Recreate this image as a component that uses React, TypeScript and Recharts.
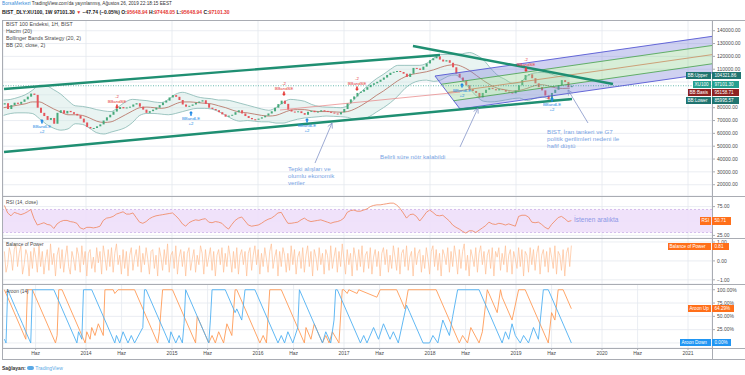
import React from "react";
import {
  Area,
  Bar,
  CartesianGrid,
  ComposedChart,
  Line,
  ReferenceArea,
  ReferenceLine,
  Scatter,
  XAxis,
  YAxis,
} from "recharts";

// zaman ekseni yıl cinsinden; 0. hafta = 2013-01-18
const START_YEAR = 2013.051;
const WEEK = 7 / 365.25;
const weekToYear = (w: number) => START_YEAR + w * WEEK;

const X_DOMAIN: [number, number] = [2013.035, 2021.279];
const xTicks = [
  2013.414, 2014, 2014.414, 2015, 2015.414, 2016, 2016.414, 2017, 2017.414, 2018,
  2018.414, 2019, 2019.414, 2020, 2020.414, 2021,
];

// fiyatlar bin puan cinsinden
const MAIN_Y: [number, number] = [11.2, 148.34];
const priceTicks = [20, 30, 40, 50, 60, 70, 80, 90, 100, 110, 120, 130, 140];
const lastPrice = 97.1013;

// iki haftalık kapanışlar
const firstOpen = 82.5;
const closes = [
  83.5, 79.0, 82.0, 83.9, 83.0, 84.6, 86.5, 88.6, 91.0, 90.0,
  80.0, 76.0, 73.5, 70.5, 72.0, 67.5, 76.0, 78.0, 75.5, 77.5,
  76.5, 75.2, 74.0, 71.5, 68.5, 65.0, 63.8, 64.2, 65.5, 67.0,
  70.0, 72.5, 74.5, 77.0, 79.0, 80.5, 79.5, 80.2, 80.8, 82.5,
  83.5, 80.8, 78.5, 76.0, 77.3, 78.5, 80.0, 82.0, 84.0, 85.5,
  88.0, 89.8, 88.5, 86.0, 82.5, 80.8, 81.5, 82.5, 83.8, 84.8,
  85.8, 83.0, 80.0, 79.0, 78.0, 76.5, 74.8, 73.0, 73.8, 74.5,
  76.5, 78.0, 75.5, 73.5, 72.0, 71.0, 70.6, 71.5, 72.5, 73.8,
  75.5, 77.2, 80.0, 82.8, 85.5, 83.0, 78.5, 77.0, 76.5, 77.2,
  75.8, 74.5, 76.8, 77.6, 76.5, 77.0, 78.0, 77.5, 76.8, 76.2,
  75.5, 74.8, 76.5, 79.0, 83.5, 86.5, 88.8, 91.5, 92.5, 94.0,
  96.0, 97.8, 99.0, 100.2, 101.8, 103.5, 105.5, 107.2, 108.0, 108.6,
  107.8, 106.5, 104.0, 106.5, 111.0, 110.5, 109.5, 112.0, 114.5, 117.0,
  118.5, 120.0, 117.5, 116.0, 117.0, 115.0, 111.5, 106.5, 103.5, 101.0,
  97.5, 94.5, 93.0, 91.5, 88.0, 91.5, 94.0, 95.5, 94.5, 93.5,
  94.5, 93.8, 92.5, 91.8, 91.2, 93.5, 97.5, 101.5, 105.5, 106.0,
  103.0, 99.0, 96.0, 93.5, 89.5, 86.5, 91.5, 94.0, 97.5, 101.5,
  100.0, 96.0, 97.1,
];

// Bollinger (20, 2) aylık okuma
const bbUpper = [
  86.0, 86.5, 88.0, 90.0, 93.5, 97.5, 97.0, 94.0, 90.5, 85.5,
  81.5, 81.0, 80.0, 78.5, 77.5, 77.0, 80.5, 84.5, 86.5, 86.0,
  85.5, 84.5, 84.0, 86.5, 90.5, 92.0, 90.5, 88.5, 87.5, 87.0,
  86.0, 86.0, 85.0, 83.5, 82.0, 80.5, 79.0, 78.0, 80.0, 84.0,
  86.5, 86.0, 85.0, 82.5, 81.0, 80.5, 80.3, 80.0, 81.5, 87.0,
  93.0, 98.0, 102.5, 106.0, 110.0, 113.0, 113.0, 113.0, 113.0, 114.5,
  118.5, 121.5, 121.5, 121.5, 122.0, 123.0, 121.0, 117.0, 110.5, 105.0,
  102.0, 99.0, 99.5, 104.5, 107.0, 107.5, 107.0, 105.0, 104.0, 104.32,
];
const bbBasis = [
  80.0, 81.0, 82.0, 83.0, 84.5, 84.5, 82.0, 79.0, 76.5, 74.5,
  74.5, 74.0, 72.0, 69.5, 68.5, 69.0, 71.5, 74.5, 77.5, 80.0,
  80.5, 80.0, 79.5, 80.5, 83.0, 84.5, 84.5, 84.0, 83.5, 83.0,
  81.5, 80.0, 78.0, 76.5, 76.0, 75.0, 74.0, 73.5, 74.0, 76.0,
  78.0, 78.5, 78.5, 77.5, 77.0, 77.0, 76.8, 76.5, 77.0, 79.0,
  82.0, 85.5, 89.5, 93.0, 97.0, 101.0, 104.0, 106.0, 107.0, 108.0,
  109.5, 111.5, 113.0, 113.5, 112.0, 109.0, 105.0, 101.0, 97.5, 95.0,
  94.0, 93.0, 93.5, 95.0, 97.0, 98.0, 97.0, 95.5, 95.0, 95.16,
];
const bbLower = [
  74.0, 75.5, 76.0, 76.0, 75.5, 71.5, 67.0, 64.0, 62.5, 63.5,
  67.5, 67.0, 64.0, 60.5, 59.5, 61.0, 62.5, 64.5, 68.5, 74.0,
  75.5, 75.5, 75.0, 74.5, 75.5, 77.0, 78.5, 79.5, 79.5, 79.0,
  77.0, 74.0, 71.0, 69.5, 70.0, 69.5, 69.0, 69.0, 68.0, 68.0,
  69.5, 71.0, 72.0, 72.5, 73.0, 73.5, 73.3, 73.0, 72.5, 71.0,
  71.0, 73.0, 76.5, 80.0, 84.0, 89.0, 95.0, 99.0, 101.0, 101.5,
  100.5, 101.5, 104.5, 105.5, 102.0, 95.0, 89.0, 85.0, 84.5, 85.0,
  86.0, 87.0, 87.5, 85.5, 87.0, 88.5, 87.0, 86.0, 86.0, 86.0,
];

// çizimler: [yıl, fiyat]
const upperTrend = [[2013.047, 94.57], [2018.116, 121.07]];
const lowerTrend = [[2013.047, 45.48], [2019.651, 86.78]];
const fallingTrend = [[2017.802, 128.08], [2020.128, 98.47]];
const thinRedLine = [[2016.256, 78.2], [2018.349, 92.2]];

// paralel kanal bantları: [yıl, alt, üst]
const chanTopBand = [[2018.058, 104.7, 104.7], [2018.131, 98.275, 105.4], [2021.279, 128.475, 135.6]];
const chanMidBand = [[2018.131, 98.275, 98.275], [2018.276, 85.425, 99.67], [2021.279, 114.225, 128.475]];
const chanLowBand = [[2018.276, 85.425, 85.425], [2018.349, 79.0, 86.126], [2021.279, 107.1, 114.225]];
const chanTop = [[2018.058, 104.7], [2021.279, 135.6]];
const chanQ1 = [[2018.131, 98.275], [2021.279, 128.475]];
const chanMid = [[2018.2035, 91.85], [2021.279, 121.35]];
const chanQ3 = [[2018.276, 85.425], [2021.279, 114.225]];
const chanBottom = [[2018.349, 79.0], [2021.279, 107.1]];
const chanEdge = [[2018.058, 104.7], [2018.349, 79.0]];

// not okları
const arrows = [
  [[2016.663, 36.9], [2016.8605, 68.08]],
  [[2016.8645, 63.72], [2016.8605, 68.08]],
  [[2016.811, 65.27], [2016.8605, 68.08]],
  [[2018.349, 49.4], [2018.558, 79.77]],
  [[2018.56, 75.41], [2018.558, 79.77]],
  [[2018.507, 77.05], [2018.558, 79.77]],
  [[2019.837, 68.1], [2019.605, 93.81]],
  [[2019.66, 91.47], [2019.605, 93.81]],
  [[2019.61, 89.45], [2019.605, 93.81]],
];

// strateji sinyalleri
const signals = [
  { t: 2013.488, p: 71.2, kind: "LE" },
  { t: 2014.36, p: 79.0, kind: "SE" },
  { t: 2015.221, p: 77.4, kind: "LE" },
  { t: 2016.302, p: 89.1, kind: "SE" },
  { t: 2016.57, p: 72.0, kind: "LE" },
  { t: 2017.151, p: 93.0, kind: "SE" },
  { t: 2018.372, p: 99.3, kind: "LE" },
  { t: 2019.116, p: 107.8, kind: "SE" },
  { t: 2019.419, p: 88.3, kind: "LE" },
];

// RSI (14) iki haftalık
const rsi = [
  77, 64, 59, 65, 63, 61, 63, 66, 70, 54, 43, 45, 47, 44, 43, 37, 45, 49, 51, 51,
  49, 48, 46, 38, 36, 39, 39, 38, 39, 41, 51, 55, 56, 58, 62, 64, 66, 62, 62, 64,
  56, 48, 46, 49, 54, 57, 59, 60, 61, 62, 63, 64, 59, 53, 45, 41, 47, 50, 52, 51,
  53, 54, 48, 47, 49, 48, 46, 40, 36, 44, 51, 55, 57, 50, 43, 41, 42, 43, 46, 50,
  53, 55, 59, 64, 65, 55, 46, 46, 47, 48, 52, 55, 51, 49, 50, 51, 52, 50, 48, 46,
  48, 49, 51, 55, 65, 68, 69, 67, 67, 69, 71, 75, 77, 78, 78, 79, 80, 81, 81, 78,
  72, 64, 55, 61, 62, 58, 50, 57, 65, 69, 65, 60, 59, 60, 55, 50, 43, 39, 36, 32,
  29, 33, 33, 30, 34, 38, 42, 48, 45, 44, 46, 45, 43, 45, 43, 41, 58, 60, 60, 57,
  48, 47, 48, 44, 39, 36, 44, 50, 56, 58, 54, 49, 50.71,
];

// Balance of Power haftalık
const bop = [
  0.5, -0.6, -0.2, 0.7, 0.3, -0.5, 0.6, 0.9, -0.3, 0.4, 0.8, -0.7, -0.2, 0.6, 0.3,
  -0.8, 0.5, -0.4, 0.7, 0.2, -0.6, 0.8, -0.3, 0.5, -0.7, 0.1, 0.6, -0.5, 0.9, -0.2,
  0.4, -0.8, 0.3, 0.7, -0.4, 0.6, -0.6, 0.2, 0.8, -0.3, -0.7, 0.5, 0.1, -0.5, 0.7,
  0.3, -0.6, 0.8, -0.2, 0.5, -0.8, 0.4, 0.6, -0.4, 0.2, -0.6, 0.7, -0.1, 0.5, -0.7,
  0.8, 0.2, -0.5, 0.6, -0.3, 0.7, -0.6, 0.4, 0.9, -0.2, 0.3, -0.7, 0.6, -0.4, 0.5,
  -0.8, 0.3, 0.7, -0.5, 0.2, 0.6, -0.3, 0.8, -0.6, 0.4, -0.2, 0.7, 0.1, -0.7, 0.5,
  0.6, -0.4, 0.3, -0.8, 0.7, 0.2, -0.5, 0.6, -0.2, 0.9, -0.6, 0.3, 0.5, -0.4, 0.8,
  -0.7, 0.2, 0.6, -0.3, 0.5, -0.8, 0.4, 0.7, -0.5, 0.1, 0.6, -0.6, 0.3, -0.2, 0.8,
  0.4, -0.7, 0.6, -0.3, 0.2, 0.7, -0.5, 0.5, -0.8, 0.3, 0.6, -0.2, 0.7, -0.6, 0.4,
  -0.3, 0.8, 0.2, -0.6, 0.5, -0.4, 0.7, -0.7, 0.3, 0.6, -0.2, 0.5, -0.8, 0.4, 0.7,
  -0.5, 0.3, 0.8, -0.2, 0.6, -0.7, 0.4, -0.3, 0.7, 0.1, -0.6, 0.5, 0.9, -0.4, 0.2,
  0.6, -0.8, 0.5, -0.3, 0.7, 0.3, -0.6, 0.4, -0.5, 0.8, -0.2, 0.6, -0.7, 0.2, 0.5,
  -0.4, 0.7, -0.6, 0.3, 0.8, -0.3, 0.5, -0.8, 0.6, 0.2, -0.5, 0.7, -0.2, 0.4, -0.7,
  0.6, 0.3, -0.5, 0.8, -0.4, 0.2, 0.7, -0.6, 0.5, -0.3, 0.9, 0.1, -0.7, 0.6, -0.2,
  0.4, -0.8, 0.7, 0.2, -0.5, 0.6, -0.3, 0.8, -0.6, 0.3, 0.5, -0.4, 0.7, -0.7, 0.2,
  0.6, -0.3, 0.5, -0.8, 0.4, 0.7, -0.2, 0.6, -0.6, 0.3, -0.4, 0.8, 0.2, -0.5, 0.7,
  -0.7, 0.4, 0.6, -0.3, 0.8, -0.5, 0.2, 0.5, -0.8, 0.7, -0.2, 0.4, 0.6, -0.6, 0.3,
  -0.4, 0.7, 0.1, -0.7, 0.5, 0.8, -0.3, 0.6, -0.5, 0.4, -0.8, 0.6, 0.3, -0.2, 0.7,
  -0.6, 0.5, -0.3, 0.8, 0.2, -0.7, 0.6, -0.4, 0.5, 0.9, -0.5, 0.3, -0.8, 0.6, 0.2,
  -0.3, 0.7, -0.6, 0.4, 0.8, -0.2, 0.5, -0.7, 0.3, 0.6, -0.4, 0.7, -0.8, 0.5, 0.2,
  0.7, -0.5, 0.4, -0.2, 0.8, -0.6, 0.3, 0.6, -0.7, 0.5, 0.1, -0.4, 0.7, -0.3, 0.6,
  -0.8, 0.5, 0.3, -0.6, 0.7, -0.2, 0.6, -0.5, 0.4, 0.8, -0.7, 0.3, 0.6, -0.3, 0.5,
  -0.6, 0.7, 0.2, -0.4, 0.8, -0.7, 0.5, 0.3, -0.5, 0.6, -0.8, 0.4, 0.7, -0.3, 0.81,
];

// Aroon (14) köşe noktaları: [hafta, değer]
const aroonUp = [
  [0, 100], [13, 7], [14, 100], [17, 100], [31, 0], [32, 14], [33, 100], [35, 100], [49, 0],
  [50, 21], [52, 7], [53, 29], [55, 14], [57, 36], [60, 14], [61, 100], [66, 100], [67, 93],
  [69, 100], [79, 100], [93, 0], [94, 21], [96, 100], [102, 100], [116, 0], [117, 50], [124, 0],
  [126, 14], [128, 0], [130, 21], [133, 0], [135, 36], [138, 14], [140, 100], [141, 100],
  [155, 0], [157, 14], [159, 0], [161, 100], [168, 100], [182, 0], [183, 29], [186, 7],
  [188, 36], [193, 0], [195, 14], [197, 0], [199, 21], [203, 0], [205, 100], [206, 100],
  [208, 93], [209, 100], [214, 93], [215, 100], [226, 86], [228, 100], [238, 100], [240, 86],
  [243, 64], [245, 100], [262, 100], [276, 0], [278, 14], [281, 0], [283, 29], [288, 0],
  [290, 21], [293, 100], [294, 93], [299, 57], [301, 100], [302, 86], [308, 43], [312, 100],
  [316, 100], [330, 0], [332, 57], [334, 43], [336, 100], [339, 100], [344, 64.29],
];
const aroonDown = [
  [0, 7], [1, 0], [2, 100], [3, 93], [8, 57], [9, 50], [11, 36], [13, 21], [15, 7], [16, 0],
  [17, 100], [30, 100], [44, 0], [45, 21], [47, 7], [48, 100], [53, 100], [67, 0], [68, 14],
  [70, 0], [72, 21], [75, 0], [77, 14], [79, 0], [84, 29], [85, 100], [86, 100], [100, 0],
  [101, 21], [104, 0], [106, 14], [108, 0], [109, 36], [110, 100], [124, 0], [125, 43],
  [126, 100], [134, 100], [140, 57], [141, 64], [144, 43], [146, 100], [152, 100], [166, 0],
  [168, 14], [170, 0], [172, 21], [175, 0], [178, 29], [179, 100], [193, 0], [195, 21],
  [198, 0], [200, 43], [201, 100], [202, 100], [216, 0], [218, 14], [220, 0], [224, 29],
  [227, 7], [230, 36], [234, 7], [236, 21], [239, 0], [242, 43], [244, 71], [246, 57],
  [254, 0], [258, 0], [260, 14], [263, 0], [266, 43], [270, 14], [272, 50], [275, 100],
  [288, 100], [302, 0], [304, 21], [306, 7], [308, 36], [310, 14], [313, 0], [315, 14],
  [318, 0], [321, 29], [324, 7], [327, 100], [330, 100], [344, 0],
];

const UP = "#47a97b";
const DOWN = "#e5555c";
const GRID = "#e4e9ef";
const FRAME = "#a9acb3";
const NOTE = "#79a3e3";

const candleRows = closes.map((c, i) => {
  const o = i === 0 ? firstOpen : closes[i - 1];
  return { t: weekToYear(i * 2), body: [Math.min(o, c), Math.max(o, c)], up: c >= o };
});
const bbRows = bbBasis.map((b, m) => ({
  t: 2013 + (m + 0.5) / 12,
  band: [bbLower[m], bbUpper[m]],
  basis: b,
  upper: bbUpper[m],
  lower: bbLower[m],
}));
const rsiRows = rsi.map((v, i) => ({ t: weekToYear(i * 2), v }));
const bopRows = bop.map((v, w) => ({ t: weekToYear(w), v }));
const aroonUpRows = aroonUp.map(([w, v]) => ({ t: weekToYear(w), v }));
const aroonDownRows = aroonDown.map(([w, v]) => ({ t: weekToYear(w), v }));
const bandRows = (rows: number[][]) => rows.map(([t, lo, hi]) => ({ t, r: [lo, hi] }));
const seg = (s: number[][]) => [
  { x: s[0][0], y: s[0][1] },
  { x: s[1][0], y: s[1][1] },
];

const W = 745;
const BASE_MARGIN = { top: 0, right: 0, left: 3, bottom: 0 };
const OVER_MARGIN = { top: 0, right: 33, left: 3, bottom: 0 };
const tickStyle = { fontSize: 5, fill: "#4a4a4a" };

function Candle(props: any) {
  const { x, y, width, height, payload } = props;
  if (x == null || y == null || !payload) return null;
  const top = height < 0 ? y + height : y;
  return (
    <rect x={x} y={top} width={width} height={Math.max(Math.abs(height), 1)} fill={payload.up ? UP : DOWN} />
  );
}

function SignalMark(props: any) {
  const { cx, cy, payload } = props;
  if (cx == null || cy == null) return null;
  if (payload.kind === "SE") {
    const c = "#e53935";
    return (
      <g>
        <text x={cx} y={cy - 11} textAnchor="middle" fontSize={4.3} fill={c}>-2</text>
        <text x={cx} y={cy - 5.6} textAnchor="middle" fontSize={4.3} fill={c}>BBandSE</text>
        <path d={`M${cx - 0.8},${cy - 4.6}h1.6v2.4h1.2l-2,2.2l-2,-2.2h1.2z`} fill={c} />
      </g>
    );
  }
  const c = "#1e88e5";
  return (
    <g>
      <path d={`M${cx},${cy}l2,2.2h-1.2v2.4h-1.6v-2.4h-1.2z`} fill={c} />
      <text x={cx} y={cy + 8.6} textAnchor="middle" fontSize={4.3} fill={c}>BBandLE</text>
      <text x={cx} y={cy + 13.6} textAnchor="middle" fontSize={4.3} fill={c}>+2</text>
    </g>
  );
}

function Tag({ cy, left, name, value, right, bg }: any) {
  const box = { position: "absolute" as const, top: cy - 3.6, height: 7.2, lineHeight: "7.2px", background: bg, color: "#fff", fontSize: 4.6, whiteSpace: "nowrap" as const, overflow: "hidden" };
  return (
    <>
      <div style={{ ...box, left, width: 711 - left, paddingLeft: 1.5, boxSizing: "border-box" }}>{name}</div>
      <div style={{ ...box, left: 712, width: right - 712, paddingLeft: 2.5, boxSizing: "border-box" }}>{value}</div>
    </>
  );
}

const hLine = (top: number) => (
  <div key={top} style={{ position: "absolute", left: 2, top, width: W - 2, height: 1, background: FRAME }} />
);

// etiket kutularının altında kalan eksen yazıları gösterilmez
const hideUnder = (hidden: number[], fmt: (v: number) => string) => (v: number) =>
  hidden.some((h) => Math.abs(h - v) < 1e-6) ? "" : fmt(v);

export default function App() {
  return (
    <div
      style={{
        position: "absolute",
        left: 0,
        top: 0,
        width: W,
        height: 375,
        background: "#fff",
        overflow: "hidden",
        fontFamily: '"Liberation Sans", Arial, sans-serif',
      }}
    >
      {/* başlık */}
      <div style={{ position: "absolute", left: 2, top: 0, fontSize: 4.7, lineHeight: "8px", color: "#333", whiteSpace: "nowrap" }}>
        <span style={{ color: "#3b8fd9" }}>BorsaMerkezi</span> TradingView.com'da yayınlanmış, Ağustos 26, 2019 22:18:15 EEST
      </div>
      <div style={{ position: "absolute", left: 2, top: 7.5, fontSize: 5, fontWeight: 700, lineHeight: "8px", color: "#222", whiteSpace: "nowrap" }}>
        BIST_DLY:XU100, 1W 97101.30 <span style={{ color: "#e53935" }}>▼</span> −47.74 (−0.05%) O:
        <span style={{ color: "#e53935" }}>95648.94</span> H:<span style={{ color: "#e53935" }}>97448.05</span> L:
        <span style={{ color: "#e53935" }}>95648.94</span> C:<span style={{ color: "#e53935" }}>97101.30</span>
      </div>

      {/* ana panel: ızgara, eksen, Bollinger */}
      <div style={{ position: "absolute", left: 0, top: 20 }}>
        <ComposedChart width={W} height={176} margin={BASE_MARGIN}>
          <CartesianGrid stroke={GRID} strokeWidth={0.8} />
          <XAxis type="number" dataKey="t" domain={X_DOMAIN} ticks={xTicks} allowDataOverflow hide />
          <YAxis
            orientation="right"
            width={33}
            domain={MAIN_Y}
            ticks={priceTicks}
            interval={0}
            allowDataOverflow
            axisLine={false}
            tickSize={3}
            tickLine={{ stroke: FRAME }}
            tick={tickStyle}
            tickFormatter={hideUnder([90, 100], (v) => `${Math.round(v * 1000)}.00`)}
          />
          <Area data={bbRows} dataKey="band" type="monotone" stroke="none" fill="#cfe6e2" fillOpacity={0.45} isAnimationActive={false} />
          <Line data={bbRows} dataKey="upper" type="monotone" stroke="#86b8b2" strokeWidth={0.8} dot={false} isAnimationActive={false} />
          <Line data={bbRows} dataKey="lower" type="monotone" stroke="#86b8b2" strokeWidth={0.8} dot={false} isAnimationActive={false} />
          <Line data={bbRows} dataKey="basis" type="monotone" stroke="#b4695a" strokeWidth={0.8} dot={false} isAnimationActive={false} />
        </ComposedChart>
      </div>

      {/* mumlar */}
      <div style={{ position: "absolute", left: 0, top: 20 }}>
        <ComposedChart width={W} height={176} margin={OVER_MARGIN} data={candleRows}>
          <XAxis type="number" dataKey="t" domain={X_DOMAIN} ticks={xTicks} allowDataOverflow hide />
          <YAxis hide domain={MAIN_Y} allowDataOverflow />
          <Bar dataKey="body" barSize={2} shape={<Candle />} isAnimationActive={false} />
        </ComposedChart>
      </div>

      {/* çizimler ve sinyaller */}
      <div style={{ position: "absolute", left: 0, top: 20 }}>
        <ComposedChart width={W} height={176} margin={OVER_MARGIN}>
          <XAxis type="number" dataKey="t" domain={X_DOMAIN} ticks={xTicks} allowDataOverflow hide />
          <YAxis hide domain={MAIN_Y} allowDataOverflow />
          <Area data={bandRows(chanTopBand)} dataKey="r" type="linear" stroke="none" fill="#7b80d9" fillOpacity={0.36} isAnimationActive={false} />
          <Area data={bandRows(chanMidBand)} dataKey="r" type="linear" stroke="none" fill="#8fd18f" fillOpacity={0.36} isAnimationActive={false} />
          <Area data={bandRows(chanLowBand)} dataKey="r" type="linear" stroke="none" fill="#7b80d9" fillOpacity={0.36} isAnimationActive={false} />
          <ReferenceLine y={lastPrice} stroke="#2a9d8f" strokeWidth={0.7} strokeDasharray="1 1.5" />
          <ReferenceLine segment={seg(thinRedLine)} stroke="#e88080" strokeWidth={0.7} ifOverflow="hidden" />
          <ReferenceLine segment={seg(chanTop)} stroke="#5558d4" strokeWidth={0.9} ifOverflow="hidden" />
          <ReferenceLine segment={seg(chanBottom)} stroke="#5558d4" strokeWidth={0.9} ifOverflow="hidden" />
          <ReferenceLine segment={seg(chanEdge)} stroke="#5558d4" strokeWidth={0.9} ifOverflow="hidden" />
          <ReferenceLine segment={seg(chanQ1)} stroke="#43a047" strokeWidth={0.8} ifOverflow="hidden" />
          <ReferenceLine segment={seg(chanQ3)} stroke="#43a047" strokeWidth={0.8} ifOverflow="hidden" />
          <ReferenceLine segment={seg(chanMid)} stroke="#c98c5f" strokeWidth={0.8} ifOverflow="hidden" />
          <ReferenceLine segment={seg(upperTrend)} stroke="#1f8f72" strokeWidth={2.4} ifOverflow="hidden" />
          <ReferenceLine segment={seg(lowerTrend)} stroke="#1f8f72" strokeWidth={2.4} ifOverflow="hidden" />
          <ReferenceLine segment={seg(fallingTrend)} stroke="#1f8f72" strokeWidth={2.4} ifOverflow="hidden" />
          {arrows.map((a, i) => (
            <ReferenceLine key={i} segment={seg(a)} stroke="#8494c8" strokeWidth={0.8} ifOverflow="hidden" />
          ))}
          <Scatter data={signals} dataKey="p" shape={<SignalMark />} isAnimationActive={false} />
        </ComposedChart>
      </div>

      {/* RSI */}
      <div style={{ position: "absolute", left: 0, top: 196 }}>
        <ComposedChart width={W} height={42} margin={BASE_MARGIN}>
          <CartesianGrid stroke={GRID} strokeWidth={0.8} />
          <XAxis type="number" dataKey="t" domain={X_DOMAIN} ticks={xTicks} allowDataOverflow hide />
          <YAxis
            orientation="right"
            width={33}
            domain={[20.5, 93.4]}
            ticks={[25, 50, 75]}
            interval={0}
            allowDataOverflow
            axisLine={false}
            tickSize={3}
            tickLine={{ stroke: FRAME }}
            tick={tickStyle}
            tickFormatter={hideUnder([50], (v) => v.toFixed(2))}
          />
          <ReferenceArea y1={30} y2={70} fill="#eedff9" fillOpacity={0.9} stroke="none" />
          <ReferenceLine y={70} stroke="#c6a8e4" strokeWidth={0.7} strokeDasharray="2 2" />
          <ReferenceLine y={30} stroke="#c6a8e4" strokeWidth={0.7} strokeDasharray="2 2" />
          <Line data={rsiRows} dataKey="v" type="linear" stroke="#f0845a" strokeWidth={0.8} dot={false} isAnimationActive={false} />
        </ComposedChart>
      </div>

      {/* Balance of Power */}
      <div style={{ position: "absolute", left: 0, top: 238 }}>
        <ComposedChart width={W} height={46} margin={BASE_MARGIN}>
          <CartesianGrid stroke={GRID} strokeWidth={0.8} />
          <XAxis type="number" dataKey="t" domain={X_DOMAIN} ticks={xTicks} allowDataOverflow hide />
          <YAxis
            orientation="right"
            width={33}
            domain={[-1.22, 1.21]}
            ticks={[-1, 0, 1]}
            interval={0}
            allowDataOverflow
            axisLine={false}
            tickSize={3}
            tickLine={{ stroke: FRAME }}
            tick={tickStyle}
            tickFormatter={(v: number) => (v < 0 ? `−${Math.abs(v).toFixed(2)}` : v.toFixed(2))}
          />
          <Line data={bopRows} dataKey="v" type="linear" stroke="#ffbf94" strokeWidth={0.7} dot={false} isAnimationActive={false} />
        </ComposedChart>
      </div>

      {/* Aroon + zaman ekseni */}
      <div style={{ position: "absolute", left: 0, top: 284 }}>
        <ComposedChart width={W} height={75} margin={BASE_MARGIN}>
          <CartesianGrid stroke={GRID} strokeWidth={0.8} />
          <XAxis
            type="number"
            dataKey="t"
            domain={X_DOMAIN}
            ticks={xTicks}
            interval={0}
            allowDataOverflow
            height={11}
            axisLine={false}
            tickSize={2}
            tickMargin={1}
            tickLine={{ stroke: FRAME }}
            tick={tickStyle}
            tickFormatter={(v: number) => (Math.abs(v - Math.round(v)) < 0.01 ? String(Math.round(v)) : "Haz")}
          />
          <YAxis
            orientation="right"
            width={33}
            domain={[-9.5, 110.8]}
            ticks={[0, 25, 50, 75, 100]}
            interval={0}
            allowDataOverflow
            axisLine={false}
            tickSize={3}
            tickLine={{ stroke: FRAME }}
            tick={tickStyle}
            tickFormatter={hideUnder([0], (v) => `${v.toFixed(2)}%`)}
          />
          <Line data={aroonUpRows} dataKey="v" type="linear" stroke="#ff9b57" strokeWidth={0.9} dot={false} isAnimationActive={false} />
          <Line data={aroonDownRows} dataKey="v" type="linear" stroke="#4fb0f2" strokeWidth={0.9} dot={false} isAnimationActive={false} />
        </ComposedChart>
      </div>

      {/* çerçeve */}
      {[20, 196, 238, 284, 348, 359].map(hLine)}
      <div style={{ position: "absolute", left: 2, top: 20, width: 1, height: 339, background: FRAME }} />
      <div style={{ position: "absolute", left: 712, top: 20, width: 1, height: 339, background: FRAME }} />

      {/* gösterge başlıkları */}
      <div style={{ position: "absolute", left: 6, top: 20.8, fontSize: 5.3, lineHeight: "7.1px", color: "#4a4a4a", whiteSpace: "nowrap" }}>
        <div>BIST 100 Endeksi, 1H, BIST</div>
        <div>Hacim (20)</div>
        <div>Bollinger Bands Strategy (20, 2)</div>
        <div>BB (20, close, 2)</div>
      </div>
      <div style={{ position: "absolute", left: 6, top: 200, fontSize: 4.8, color: "#4a4a4a" }}>RSI (14, close)</div>
      <div style={{ position: "absolute", left: 6, top: 242, fontSize: 4.8, color: "#4a4a4a" }}>Balance of Power</div>
      <div style={{ position: "absolute", left: 6, top: 289, fontSize: 4.8, color: "#4a4a4a" }}>Aroon (14)</div>

      {/* notlar */}
      <div style={{ position: "absolute", left: 288, top: 164.5, fontSize: 6.2, lineHeight: "7.2px", color: NOTE, whiteSpace: "nowrap" }}>
        <div>Tepki alışları ve</div>
        <div>olumlu ekonomik</div>
        <div>veriler</div>
      </div>
      <div style={{ position: "absolute", left: 380, top: 153, fontSize: 6.2, lineHeight: "7.2px", color: NOTE, whiteSpace: "nowrap" }}>
        Belirli süre nötr kalabildi
      </div>
      <div style={{ position: "absolute", left: 547, top: 128, fontSize: 6.2, lineHeight: "7.2px", color: NOTE, whiteSpace: "nowrap" }}>
        <div>BIST, İran tankeri ve G7</div>
        <div>politik gerilimleri nedeni ile</div>
        <div>hafif düştü</div>
      </div>
      <div style={{ position: "absolute", left: 574, top: 215.5, fontSize: 6.5, lineHeight: "7.5px", color: "#8c98e6", whiteSpace: "nowrap" }}>
        İstenen aralıkta
      </div>

      {/* son değer etiketleri */}
      <Tag cy={75.7} left={686} name="BB:Upper" value="104321.86" right={741} bg="#1f7470" />
      <Tag cy={84.7} left={693} name="XU100" value="97101.30" right={739} bg="#26a08f" />
      <Tag cy={92.7} left={688} name="BB:Basis" value="95158.71" right={739} bg="#8e2222" />
      <Tag cy={100.3} left={686} name="BB:Lower" value="85995.57" right={739} bg="#1f7470" />
      <Tag cy={221} left={700} name="RSI" value="50.71" right={731} bg="#ff6f1a" />
      <Tag cy={246.7} left={668} name="Balance of Power" value="0.81" right={729} bg="#ff6f1a" />
      <Tag cy={308.7} left={688} name="Aroon Up" value="64.29%" right={734} bg="#ff6f1a" />
      <Tag cy={342.7} left={680} name="Aroon Down" value="0.00%" right={731} bg="#2196f3" />

      {/* alt bilgi */}
      <div style={{ position: "absolute", left: 2, top: 363.5, fontSize: 5, lineHeight: "8px", whiteSpace: "nowrap", color: "#333" }}>
        <b>Sağlayan:</b>{" "}
        <span style={{ display: "inline-block", width: 7, height: 4, borderRadius: 2, background: "#5aa9e6", verticalAlign: "middle" }} />{" "}
        <span style={{ color: "#5aa9e6" }}>TradingView</span>
      </div>
    </div>
  );
}
